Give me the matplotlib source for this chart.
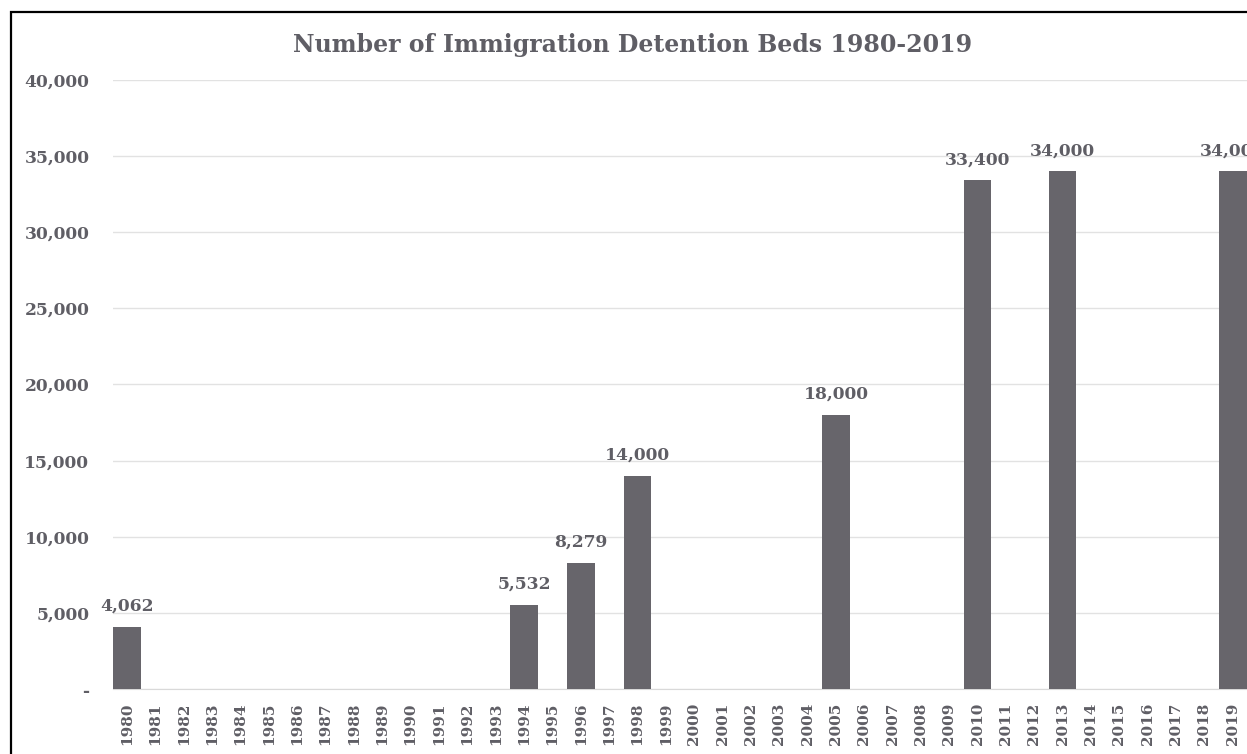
import matplotlib
matplotlib.use("Agg")
import matplotlib.pyplot as plt
from matplotlib.patches import Rectangle
from matplotlib.ticker import FuncFormatter

# detention beds by year (years with no figure are left empty)
years = list(range(1980, 2020))
bed_years = [1980, 1994, 1996, 1998, 2005, 2010, 2013, 2019]
beds = [4062, 5532, 8279, 14000, 18000, 33400, 34000, 34000]

title = "Number of Immigration Detention Beds 1980-2019"
text_col = "#5f5e65"
bar_col = "#67656b"

plt.rcParams["font.family"] = ["DejaVu Serif"]
plt.rcParams["font.weight"] = "bold"

fig = plt.figure(figsize=(12.47, 7.54), dpi=100)
ax = fig.add_axes([0.0906, 0.0862, 0.9094, 0.8078])

ax.bar(bed_years, beds, width=0.97, color=bar_col, zorder=3)
for x, v in zip(bed_years, beds):
    ax.text(x, v + 800, "{:,}".format(v), ha="center", va="bottom",
            fontsize=12.3, fontweight="bold", color=text_col, clip_on=False)

ax.set_xlim(1979.5, 2019.5)
ax.set_ylim(0, 40000)
ax.set_xticks(years)
ax.set_xticklabels([str(y) for y in years], rotation=90, fontsize=11,
                   fontweight="bold", color=text_col)
ax.set_yticks(range(0, 40001, 5000))
ax.yaxis.set_major_formatter(FuncFormatter(lambda v, p: "-" if v == 0 else "{:,.0f}".format(v)))
for t in ax.get_yticklabels():
    t.set_fontsize(12.3)
    t.set_fontweight("bold")
    t.set_color(text_col)
ax.tick_params(axis="both", length=0)
ax.tick_params(axis="y", pad=17)
ax.tick_params(axis="x", pad=10)

ax.grid(axis="y", color="#e2e2e2", linewidth=1, zorder=0)
for s in ["top", "right", "left"]:
    ax.spines[s].set_visible(False)
ax.spines["bottom"].set_color("#d9d9d9")

fig.text(0.507, 0.94, title, ha="center", va="center", fontsize=17,
         fontweight="bold", color=text_col)

# outer chart border, clipped at the right and bottom like the source image
fig.patches.append(Rectangle((11 / 1247, -0.05), 1.2, 1 - 12 / 754 + 0.05,
                             transform=fig.transFigure, fill=False,
                             edgecolor="black", linewidth=1.6))

fig.savefig("out.png", dpi=100)
